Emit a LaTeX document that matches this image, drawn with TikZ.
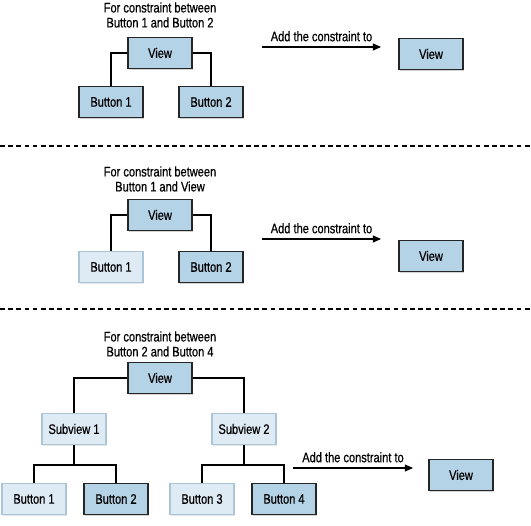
\documentclass[tikz,border=0pt]{standalone}
\usepackage{fontspec}
\setsansfont{Liberation Sans}[FakeStretch=0.8, FakeBold=0.6]
\usetikzlibrary{arrows.meta,shadows}

\definecolor{boxblue}{RGB}{181,211,231}
\definecolor{paleblue}{RGB}{222,235,245}
\definecolor{paleedge}{RGB}{170,196,216}

\tikzset{
    hot/.style={draw=black!85, fill=boxblue, line width=1.2pt,
        minimum width=1.92cm, minimum height=0.93cm,
        drop shadow={shadow xshift=1.2pt, shadow yshift=-1.2pt, opacity=0.35}},
    cold/.style={draw=paleedge, fill=paleblue, line width=1.2pt,
        minimum width=1.92cm, minimum height=0.93cm,
        drop shadow={shadow xshift=1.2pt, shadow yshift=-1.2pt, opacity=0.2}},
    caption/.style={align=center},
    wire/.style={line width=1.2pt},
    addto/.style={line width=1pt, -{Triangle[length=7pt,width=6pt]}}
}

\begin{document}
\begin{tikzpicture}[x=0.03cm, y=-0.03cm, font=\fontsize{11.8}{12.8}\selectfont\sffamily]

            \useasboundingbox (0,0) rectangle (531,525);

            % ==========================================
            % 1. Button 1 e Button 2
            % ==========================================
            \node[caption] (cap1) at (160,15) {For constraint between\\Button 1 and Button 2};
            \node[hot] (top1) at (160,53) {View};
            \node[hot] (ba1) at (111,102) {Button 1};
            \node[hot] (bb1) at (211,102) {Button 2};
            \draw[wire] (top1.west) -| (ba1.north);
            \draw[wire] (top1.east) -| (bb1.north);

            \coordinate (from1) at (262,47);
            \coordinate (to1) at (381,47);
            \draw[addto] (from1) -- (to1) node[midway, above=1pt] {Add the constraint to};
            \node[hot] (res1) at (431,54) {View};

            \draw[wire, dashed, dash pattern=on 4pt off 3pt] (0,146) -- (531,146);

            % ==========================================
            % 2. Button 1 e View
            % ==========================================
            \node[caption] (cap2) at (160,179) {For constraint between\\Button 1 and View};
            \node[hot] (top2) at (160,215) {View};
            \node[cold] (ba2) at (111,267) {Button 1};
            \node[hot] (bb2) at (211,267) {Button 2};
            \draw[wire] (top2.west) -| (ba2.north);
            \draw[wire] (top2.east) -| (bb2.north);

            \coordinate (from2) at (262,239);
            \coordinate (to2) at (381,239);
            \draw[addto] (from2) -- (to2) node[midway, above=1pt] {Add the constraint to};
            \node[hot] (res2) at (431,256) {View};

            \draw[wire, dashed, dash pattern=on 4pt off 3pt] (0,309) -- (531,309);

            % ==========================================
            % 3. Button 2 e Button 4
            % ==========================================
            \node[caption] (cap3) at (160,344) {For constraint between\\Button 2 and Button 4};
            \node[hot] (top3) at (160,378) {View};
            \node[cold] (sub1) at (74,429) {Subview 1};
            \node[cold] (sub2) at (244,429) {Subview 2};
            \draw[wire] (top3.west) -| (sub1.north);
            \draw[wire] (top3.east) -| (sub2.north);

            \node[cold] (ba3) at (34,499) {Button 1};
            \node[hot] (bb3) at (116,499) {Button 2};
            \node[cold] (bc3) at (202,499) {Button 3};
            \node[hot] (bd3) at (284,499) {Button 4};

            \coordinate (fork1) at (74,465);
            \coordinate (fork2) at (244,465);
            \draw[wire] (sub1.south) -- (fork1);
            \draw[wire] (ba3.north) |- (fork1) -| (bb3.north);
            \draw[wire] (sub2.south) -- (fork2);
            \draw[wire] (bc3.north) |- (fork2) -| (bd3.north);

            \coordinate (from3) at (293,468);
            \coordinate (to3) at (413,468);
            \draw[addto] (from3) -- (to3) node[midway, above=1pt] {Add the constraint to};
            \node[hot] (res3) at (461,475) {View};

        \end{tikzpicture}
\end{document}
